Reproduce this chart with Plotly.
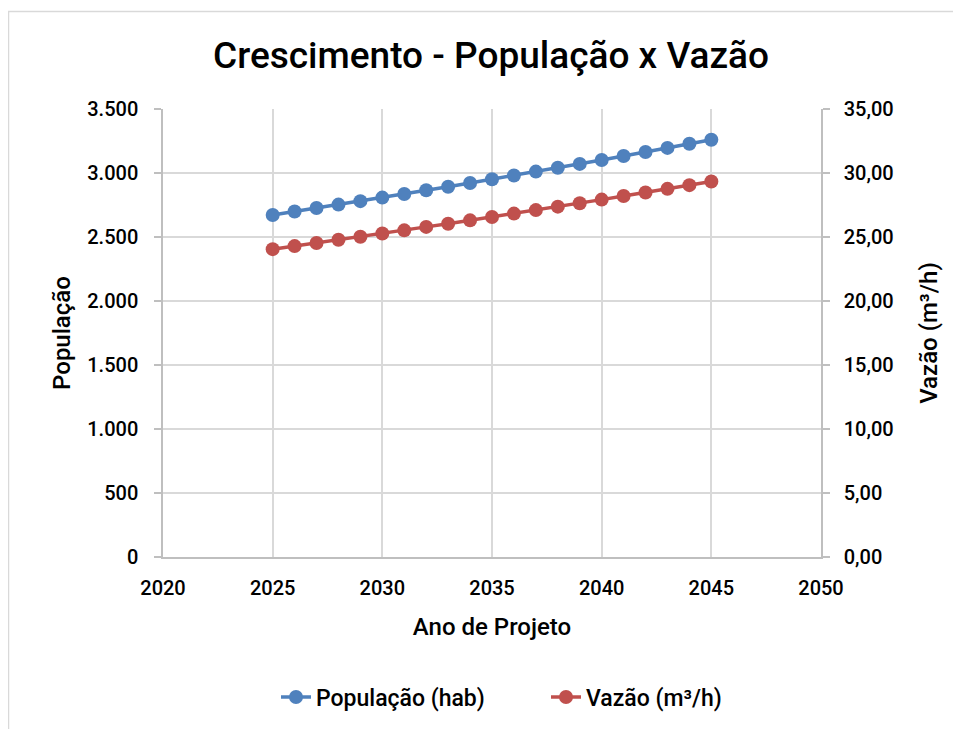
import plotly.graph_objects as go

anos = list(range(2025, 2046))
populacao = [2672, 2699, 2726, 2753, 2780, 2808, 2836, 2865, 2893, 2922, 2951,
             2981, 3011, 3041, 3071, 3102, 3133, 3164, 3196, 3228, 3260]
vazao = [24.05, 24.29, 24.53, 24.78, 25.02, 25.27, 25.52, 25.79, 26.04, 26.30, 26.56,
         26.83, 27.10, 27.37, 27.64, 27.92, 28.20, 28.48, 28.76, 29.05, 29.34]

titulo = "Crescimento - População x Vazão"
nome_pop = "População (hab)"
nome_vaz = "Vazão (m³/h)"

FONT = "Roboto"
BLUE = "#4F81BD"
RED = "#C0504D"
GRID = "#d9d9d9"
AXIS = "#bfbfbf"

fig = go.Figure()
fig.add_trace(go.Scatter(x=anos, y=populacao, name=nome_pop, mode="lines+markers",
                         line=dict(color=BLUE, width=3.5),
                         marker=dict(color=BLUE, size=14)))
fig.add_trace(go.Scatter(x=anos, y=vazao, name=nome_vaz, mode="lines+markers",
                         yaxis="y2",
                         line=dict(color=RED, width=3.5),
                         marker=dict(color=RED, size=14)))

tickfont = dict(family=FONT, size=20, color="#000000", weight=500)
titlefont = dict(family=FONT, size=24, color="#000000", weight=500)

# page has an 8px body margin; plot area in figure coords: x 155..813, y 101..549
fig.update_layout(
    width=961, height=729,
    margin=dict(l=155, r=148, t=101, b=180),
    paper_bgcolor="white", plot_bgcolor="white",
    separators=",.",
    title=dict(text=titulo, x=0.5026, xanchor="center", y=0.9355, yanchor="middle",
               font=dict(family=FONT, size=37, color="#000000", weight=500)),
    showlegend=True,
    legend=dict(orientation="h", x=(268 - 155) / 658, xanchor="left", y=-0.3125,
                yanchor="middle",
                font=dict(family=FONT, size=23, color="#000000", weight=500),
                entrywidth=225, entrywidthmode="pixels", traceorder="normal"),
    xaxis=dict(range=[2020, 2050], dtick=5, tick0=2020, showgrid=True, gridcolor=GRID,
               gridwidth=1.5, showline=True, linecolor=AXIS, linewidth=1.5,
               ticks="", tickfont=tickfont, ticklabelstandoff=12, zeroline=False,
               title=dict(text="Ano de Projeto", font=titlefont, standoff=19)),
    yaxis=dict(range=[0, 3500], dtick=500, tickformat=",.0f", showgrid=True,
               gridcolor=GRID, gridwidth=1.5, showline=True, linecolor=AXIS,
               linewidth=1.5, ticks="outside", ticklen=7, tickcolor=AXIS, tickwidth=1.5,
               tickfont=tickfont, ticklabelstandoff=12, zeroline=False,
               title=dict(text="População", font=titlefont, standoff=10)),
    yaxis2=dict(range=[0, 35], dtick=5, tickformat=".2f", overlaying="y", side="right",
                showgrid=False, showline=True, linecolor=AXIS, linewidth=1.5,
                ticks="outside", ticklen=7, tickcolor=AXIS, tickwidth=1.5,
                tickfont=tickfont, ticklabelstandoff=10, zeroline=False,
                title=dict(text=nome_vaz, font=titlefont, standoff=27)),
    shapes=[dict(type="rect", xref="paper", yref="paper",
                 x0=(8.5 - 163) / 658, x1=(975 - 163) / 658,
                 y0=(557 - 745) / 448, y1=(557 - 11.5) / 448,
                 line=dict(color=GRID, width=1.5), fillcolor="rgba(0,0,0,0)", layer="below")],
)

fig.write_html("out.html")
